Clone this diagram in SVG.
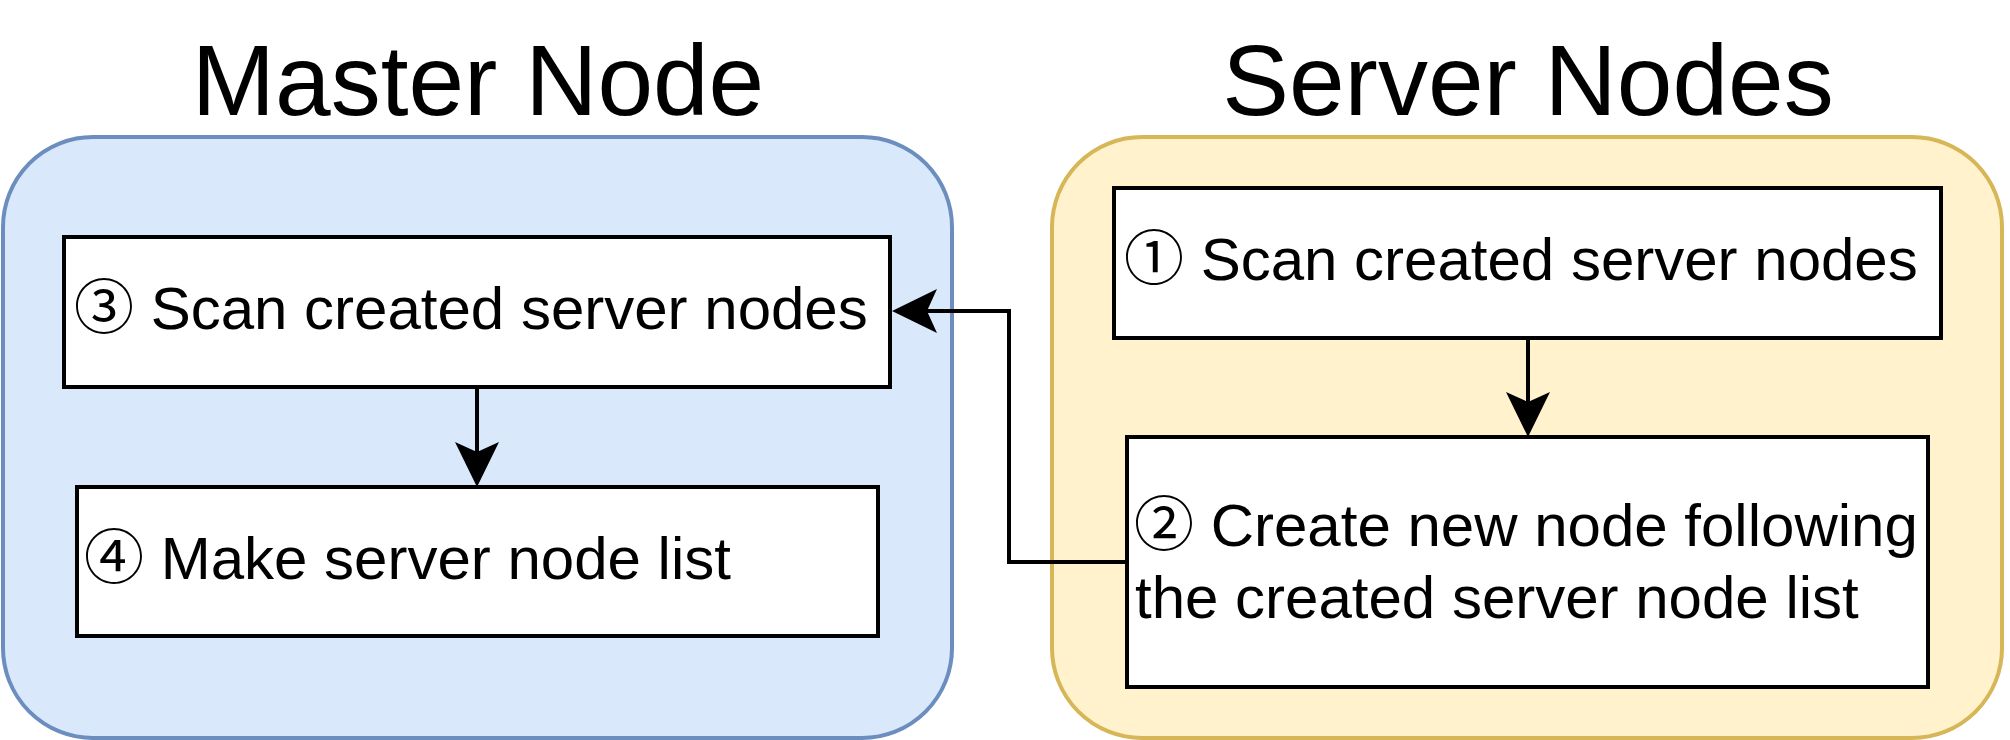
<svg xmlns="http://www.w3.org/2000/svg" width="2010" height="740" viewBox="0 0 2010 740">
  <style>
    .title { font-family: "Liberation Sans", Arial, "Noto Sans CJK JP", sans-serif; font-size: 100px; fill: #000; text-anchor: middle; }
    .label { font-family: "Liberation Sans", Arial, "Noto Sans CJK JP", sans-serif; font-size: 60px; fill: #000; }
    .box { fill: #ffffff; stroke: #000000; stroke-width: 4; }
    .master { fill: #dae8fc; stroke: #6c8ebf; stroke-width: 4; }
    .server { fill: #fff2cc; stroke: #d6b656; stroke-width: 4; }
    .edge { fill: none; stroke: #000000; stroke-width: 4; }
  </style>
  <defs>
    <marker id="arrow" markerUnits="userSpaceOnUse" viewBox="0 0 45 44" markerWidth="45" markerHeight="44" refX="10" refY="22" orient="auto">
      <path d="M45,22 L0,0 L10,22 L0,44 Z" fill="#000000"/>
    </marker>
  </defs>

  <g id="master-node">
    <rect class="master" x="3" y="137" width="949" height="601" rx="90" ry="90"/>
    <text class="title" x="478" y="115">Master Node</text>
  </g>

  <g id="server-nodes">
    <rect class="server" x="1052" y="137" width="950" height="601" rx="90" ry="90"/>
    <text class="title" x="1528" y="115">Server Nodes</text>
  </g>

  <g id="step3">
    <rect class="box" x="64" y="237" width="826" height="150"/>
    <text class="label" x="74" y="329">③ Scan created server nodes</text>
  </g>

  <g id="step4">
    <rect class="box" x="77" y="487" width="801" height="149"/>
    <text class="label" x="84" y="579">④ Make server node list</text>
  </g>

  <g id="step1">
    <rect class="box" x="1114" y="188" width="827" height="150"/>
    <text class="label" x="1124" y="280">① Scan created server nodes</text>
  </g>

  <g id="step2">
    <rect class="box" x="1127" y="437" width="801" height="250"/>
    <text class="label" x="1134" y="546">② Create new node following</text>
    <text class="label" x="1135" y="618">the created server node list</text>
  </g>

  <g id="connectors">
    <path class="edge" d="M477,387 V452" marker-end="url(#arrow)"/>
    <path class="edge" d="M1528,338 V402" marker-end="url(#arrow)"/>
    <path class="edge" d="M1127,562 H1009 V311 H927" marker-end="url(#arrow)"/>
  </g>
</svg>
